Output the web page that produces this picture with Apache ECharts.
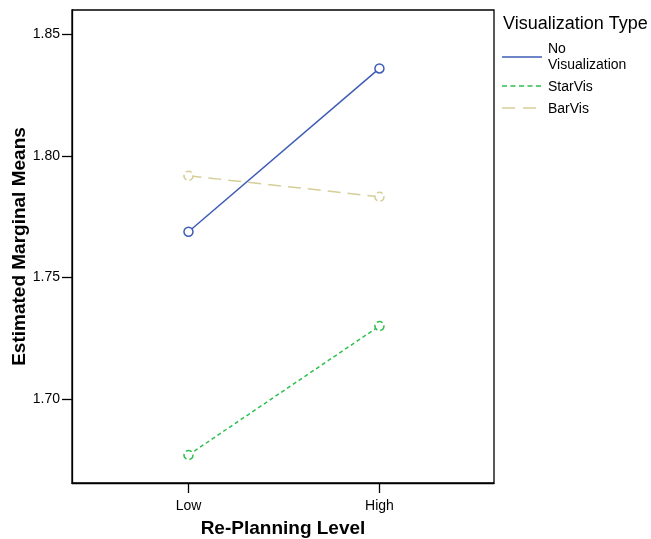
<!DOCTYPE html>
<html>
<head>
<meta charset="utf-8">
<script src="https://cdn.jsdelivr.net/npm/echarts@6/dist/echarts.min.js"></script>
<style>
  html, body { margin: 0; padding: 0; background: #fff; }
  #chart { width: 651px; height: 539px; }
</style>
</head>
<body>
<div id="chart"></div>
<script>
// re-planning levels on the x axis
const levels = ['Low', 'High']
const yTicks = [1.70, 1.75, 1.80, 1.85]

// estimated marginal means per visualization type
const seriesNames = ['No\nVisualization', 'StarVis', 'BarVis']
const noVisData = [1.7688, 1.8359]
const starVisData = [1.6771, 1.7301]
const barVisData = [1.7918, 1.7832]

const FONT = '"Liberation Sans", Arial, sans-serif'
const colors = ['#3e5cb6', '#2fbf4f', '#d5ce98']
const lineTypes = ['solid', [4, 3], [13, 7]]
const legendDash = ['solid', [5, 3.5], [13, 8]]

const chart = echarts.init(document.getElementById('chart'))

function toPoints(values) {
  return values.map((v, i) => [i, v])
}

function makeSeries(name, values, idx) {
  return {
    name: name,
    type: 'line',
    data: toPoints(values),
    symbol: 'circle',
    symbolSize: 9,
    showSymbol: true,
    itemStyle: {
      color: '#fff',
      borderColor: colors[idx],
      borderWidth: 1.5,
      borderType: idx === 0 ? 'solid' : 'dashed'
    },
    lineStyle: {
      color: colors[idx],
      width: 1.5,
      type: lineTypes[idx]
    },
    emphasis: { disabled: true },
    animation: false
  }
}

// legend drawn by hand so the line samples match the original
const legendItems = []
const legendRows = [57, 86, 108]
legendItems.push({
  type: 'text',
  left: 503,
  top: 15,
  style: { text: 'Visualization Type', font: '18px ' + FONT, fill: '#000' }
})
seriesNames.forEach((name, i) => {
  legendItems.push({
    type: 'line',
    shape: { x1: 502, y1: legendRows[i], x2: 542, y2: legendRows[i] },
    style: { stroke: colors[i], lineWidth: 1.5, lineDash: legendDash[i] === 'solid' ? null : legendDash[i] }
  })
  legendItems.push({
    type: 'text',
    x: 548,
    y: i === 0 ? legendRows[i] : legendRows[i] + 1,
    style: {
      text: name,
      font: '14px ' + FONT,
      fill: '#000',
      lineHeight: 16,
      verticalAlign: 'middle',
      align: 'left'
    }
  })
})

chart.setOption({
  backgroundColor: '#fff',
  animation: false,
  grid: {
    left: 72,
    top: 10,
    right: 157,
    bottom: 56,
    outerBoundsMode: 'none',
    containLabel: false,
    show: true,
    borderColor: '#000',
    borderWidth: 1.3,
    backgroundColor: 'transparent'
  },
  xAxis: {
    type: 'value',
    min: -0.61,
    max: 1.6,
    name: 'Re-Planning Level',
    nameLocation: 'middle',
    nameGap: 36,
    nameMoveOverlap: false,
    nameTextStyle: { fontFamily: FONT, fontSize: 19, fontWeight: 'bold', color: '#000' },
    axisLine: { show: true, onZero: false, lineStyle: { color: '#000', width: 1.3 } },
    axisTick: { show: true, length: 10, customValues: [0, 1], lineStyle: { color: '#000', width: 1.3 } },
    axisLabel: {
      customValues: [0, 1],
      formatter: v => levels[Math.round(v)],
      margin: 16,
      fontFamily: FONT,
      fontSize: 14,
      color: '#000'
    },
    splitLine: { show: false }
  },
  yAxis: {
    type: 'value',
    min: 1.6656,
    max: 1.8599,
    name: 'Estimated Marginal Means',
    nameLocation: 'middle',
    nameGap: 43,
    nameMoveOverlap: false,
    nameTextStyle: { fontFamily: FONT, fontSize: 19, fontWeight: 'bold', color: '#000' },
    axisLine: { show: true, onZero: false, lineStyle: { color: '#000', width: 1.3 } },
    axisTick: { show: true, length: 10, customValues: yTicks, lineStyle: { color: '#000', width: 1.3 } },
    axisLabel: {
      customValues: yTicks,
      formatter: v => v.toFixed(2),
      margin: 12,
      fontFamily: FONT,
      fontSize: 14,
      color: '#000'
    },
    splitLine: { show: false }
  },
  graphic: legendItems,
  series: [
    makeSeries(seriesNames[0], noVisData, 0),
    makeSeries(seriesNames[1], starVisData, 1),
    makeSeries(seriesNames[2], barVisData, 2)
  ]
})
</script>
</body>
</html>
